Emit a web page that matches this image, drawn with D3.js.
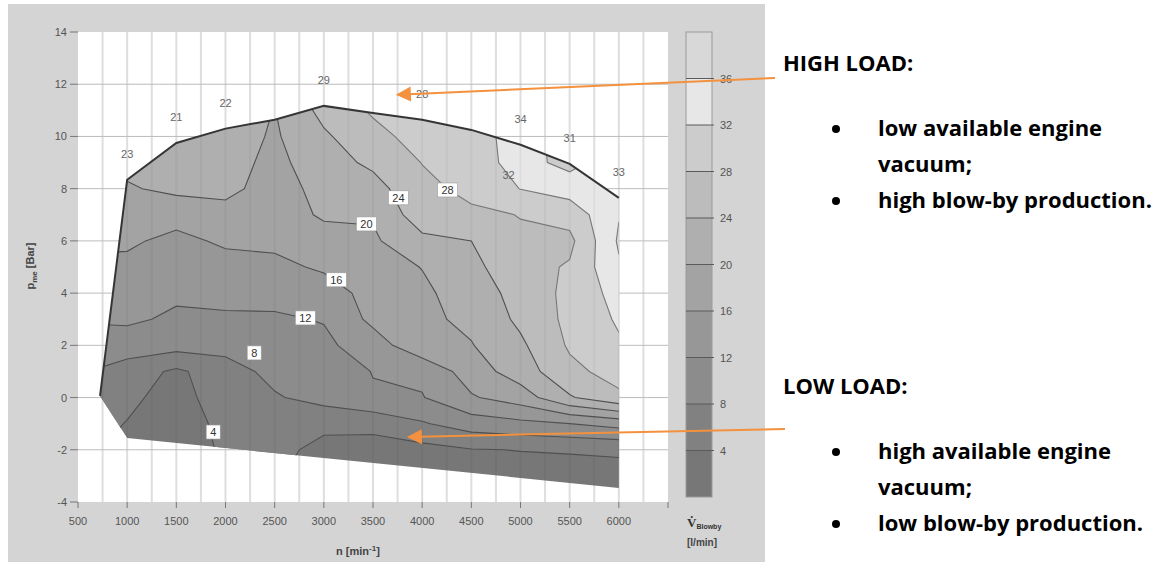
<!DOCTYPE html>
<html>
<head>
<meta charset="utf-8">
<script src="https://cdn.jsdelivr.net/npm/d3@7/dist/d3.min.js"></script>
<style>
  body { margin: 0; background: #fff; }
  svg { display: block; }
</style>
</head>
<body>
<div id="chart"></div>
<script>
// engine speed columns of the map [min^-1]
var rpmGrid = [500, 1000, 1500, 2000, 2500, 3000, 3500, 4000, 4500, 5000, 5500, 6000, 6500];
// mean effective pressure rows [bar], bottom to top
var pmeGrid = [-4, -3, -2, -1, 0, 1, 2, 3, 4, 5, 6, 7, 8, 9, 10, 11, 12];

// blow-by flow [l/min], one list per speed, values for pme -4 .. 12
var blowby500  = [5.0, 5.0, 5.0, 5.2, 6.5, 8.5, 10.5, 12.3, 13.8, 15.2, 16.8, 18.3, 19.8, 21.0, 22.0, 23.0, 23.0];
var blowby1000 = [2.5, 2.6, 3.0, 3.9, 4.6, 6.0, 10.2, 12.6, 13.9, 15.1, 16.6, 18.1, 19.6, 21.0, 22.0, 23.0, 23.0];
var blowby1500 = [2.0, 2.0, 2.2, 2.5, 2.9, 3.3, 9.5, 11.4, 12.6, 13.9, 15.0, 17.4, 20.9, 21.3, 21.2, 21.0, 21.0];
var blowby2000 = [4.2, 4.3, 4.5, 4.8, 5.5, 6.2, 9.4, 11.4, 13.2, 14.6, 16.6, 18.7, 21.0, 21.6, 22.0, 22.0, 22.0];
var blowby2500 = [4.4, 4.6, 5.0, 6.0, 7.6, 9.2, 10.5, 11.5, 13.2, 15.0, 16.9, 17.8, 18.4, 18.9, 19.5, 19.9, 20.5];
var blowby3000 = [1.0, 1.5, 3.0, 4.8, 9.5, 10.3, 11.2, 12.2, 14.0, 16.6, 18.2, 20.6, 21.2, 22.3, 23.4, 25.2, 26.0];
var blowby3500 = [0.8, 1.0, 2.6, 5.0, 11.7, 12.1, 14.0, 17.0, 17.5, 18.5, 19.4, 20.4, 22.5, 24.8, 26.8, 28.5, 29.0];
var blowby4000 = [1.2, 1.5, 2.7, 7.6, 11.8, 12.8, 19.0, 19.1, 19.3, 20.1, 23.0, 26.3, 27.0, 28.1, 29.5, 30.5, 31.0];
var blowby4500 = [1.5, 2.0, 3.8, 10.0, 15.6, 18.0, 19.8, 20.9, 21.8, 23.0, 24.0, 27.3, 29.0, 30.5, 31.0, 31.5, 32.0];
var blowby5000 = [1.8, 2.5, 4.1, 11.0, 18.0, 22.0, 23.3, 24.8, 25.5, 26.5, 27.5, 28.1, 32.1, 33.2, 33.0, 33.0, 33.0];
var blowby5500 = [1.8, 2.5, 4.3, 12.0, 23.6, 27.0, 28.5, 29.0, 29.0, 28.4, 27.0, 29.5, 33.8, 31.0, 31.0, 31.0, 31.0];
var blowby6000 = [1.5, 2.8, 4.5, 13.5, 27.2, 29.5, 31.5, 32.5, 33.5, 35.5, 36.5, 35.8, 34.0, 34.0, 34.0, 34.0, 34.0];
var blowby6500 = [1.5, 2.8, 4.5, 13.5, 27.2, 29.5, 31.5, 32.5, 33.5, 35.5, 36.5, 35.8, 34.0, 34.0, 34.0, 34.0, 34.0];
var blowbyCols = [blowby500, blowby1000, blowby1500, blowby2000, blowby2500, blowby3000, blowby3500,
                  blowby4000, blowby4500, blowby5000, blowby5500, blowby6000, blowby6500];

// iso levels and band shades
var levels = [0, 4, 8, 12, 16, 20, 24, 28, 32, 36];
var bandColors = ["#777777", "#818181", "#8c8c8c", "#979797", "#a3a3a3", "#afafaf", "#bcbcbc", "#cccccc", "#e7e7e7", "#d8d8d8"];

// operating range of the engine (full load curve and lower limit)
var envRpm = [724, 1000, 1500, 2000, 2500, 3000, 3500, 4000, 4500, 5000, 5500, 6000];
var envTop = [0.06, 8.34, 9.75, 10.3, 10.64, 11.17, 10.9, 10.64, 10.25, 9.68, 8.95, 7.65];
var envBottomRpm = [724, 1000, 6000];
var envBottom = [0.06, -1.55, -3.46];

// measured values written above the full load curve
var fullLoadRpm = [1000, 1500, 2000, 3000, 4000, 5000, 5500, 6000];
var fullLoadBlowby = [23, 21, 22, 29, 28, 34, 31, 33];

// inline contour labels
var labelRpm = [1875, 2292, 2812, 3127, 3433, 3759, 4258, 4879];
var labelPme = [-1.32, 1.71, 3.05, 4.51, 6.65, 7.65, 7.95, 8.53];
var labelVal = [4, 8, 12, 16, 20, 24, 28, 32];

var xTicks = [500, 1000, 1500, 2000, 2500, 3000, 3500, 4000, 4500, 5000, 5500, 6000];
var yTicks = [-4, -2, 0, 2, 4, 6, 8, 10, 12, 14];
var barTicks = [4, 8, 12, 16, 20, 24, 28, 32, 36];

var highItems = ["low available engine", "vacuum;", "high blow-by production."];
var lowItems = ["high available engine", "vacuum;", "low blow-by production."];

var width = 1167, height = 567;
var svg = d3.select("#chart").append("svg")
    .attr("width", width)
    .attr("height", height);

var x = d3.scaleLinear().domain([500, 6500]).range([78, 668]);
var y = d3.scaleLinear().domain([-4, 14]).range([502, 32]);

// grey frame and white plot area
svg.append("rect").attr("x", 8).attr("y", 4).attr("width", 757).attr("height", 558)
    .attr("fill", "#d4d4d4");
svg.append("rect").attr("x", 78).attr("y", 32).attr("width", 590).attr("height", 470)
    .attr("fill", "#fff");

// grid
var vGrid = d3.range(750, 6500, 250);
svg.append("g").selectAll("line").data(vGrid).join("line")
    .attr("x1", d => x(d)).attr("x2", d => x(d))
    .attr("y1", 32).attr("y2", 502)
    .attr("stroke", "#dedede").attr("stroke-width", 2);
svg.append("g").selectAll("line").data(d3.range(-2, 14, 2)).join("line")
    .attr("x1", 78).attr("x2", 668)
    .attr("y1", d => y(d)).attr("y2", d => y(d))
    .attr("stroke", "#bcbcbc");

// envelope used as clip
var envPts = envRpm.map((r, i) => [x(r), y(envTop[i])])
    .concat(envBottomRpm.slice().reverse().map((r, i) => [x(r), y(envBottom[envBottom.length - 1 - i])]));
svg.append("clipPath").attr("id", "env")
    .append("path").attr("d", "M" + envPts.join("L") + "Z");

// contour map
var nx = rpmGrid.length, ny = pmeGrid.length;
var values = [];
for (var j = 0; j < ny; j++) {
    for (var i = 0; i < nx; i++) values.push(blowbyCols[i][ny - 1 - j]);
}
var bands = d3.contours().size([nx, ny]).thresholds(levels)(values);
var step = rpmGrid[1] - rpmGrid[0];
var topPme = pmeGrid[ny - 1];
var gridPath = d3.geoPath(d3.geoTransform({
    point: function(gx, gy) {
        this.stream.point(x(rpmGrid[0] + (gx - 0.5) * step), y(topPme - (gy - 0.5)));
    }
}));

var map = svg.append("g").attr("clip-path", "url(#env)");
map.selectAll("path.band").data(bands).join("path")
    .attr("class", "band")
    .attr("d", gridPath)
    .attr("fill", (d, i) => bandColors[i]);
// faint vertical stripes showing through
map.selectAll("line").data(vGrid).join("line")
    .attr("x1", d => x(d)).attr("x2", d => x(d))
    .attr("y1", 32).attr("y2", 502)
    .attr("stroke", "#000").attr("stroke-opacity", 0.04).attr("stroke-width", 2);
map.selectAll("path.iso").data(bands.filter(d => d.value > 0)).join("path")
    .attr("class", "iso")
    .attr("d", gridPath)
    .attr("fill", "none")
    .attr("stroke", d => d.value >= 28 ? "#777" : "#505050")
    .attr("stroke-width", 1.1);

// full load curve
svg.append("path")
    .datum(envRpm.map((r, i) => [r, envTop[i]]))
    .attr("d", d3.line().x(d => x(d[0])).y(d => y(d[1])))
    .attr("fill", "none").attr("stroke", "#353535").attr("stroke-width", 2);

var topAt = d3.scaleLinear().domain(envRpm).range(envTop);
svg.append("g").selectAll("text").data(fullLoadRpm).join("text")
    .attr("x", d => x(d)).attr("y", d => y(topAt(d)) - 22)
    .attr("text-anchor", "middle")
    .style("font-family", "Liberation Sans, Arial, sans-serif").style("font-size", "11px")
    .attr("fill", "#666")
    .text((d, i) => fullLoadBlowby[i]);

// contour value boxes
var lab = svg.append("g").selectAll("g").data(labelVal).join("g")
    .attr("transform", (d, i) => "translate(" + x(labelRpm[i]) + "," + y(labelPme[i]) + ")");
lab.filter(d => d < 32).append("rect")
    .attr("x", d => d < 10 ? -7 : -10).attr("y", -7)
    .attr("width", d => d < 10 ? 14 : 20).attr("height", 14)
    .attr("fill", "#fff").attr("stroke", "#9a9a9a").attr("stroke-width", 0.6);
lab.append("text")
    .attr("y", 4).attr("text-anchor", "middle")
    .style("font-family", "Liberation Sans, Arial, sans-serif").style("font-size", "11px")
    .attr("fill", d => d < 32 ? "#333" : "#666")
    .text(d => d);

// axes
var axisFont = "Liberation Sans, Arial, sans-serif";
svg.append("g").selectAll("line").data(yTicks).join("line")
    .attr("x1", 70).attr("x2", 78).attr("y1", d => y(d)).attr("y2", d => y(d))
    .attr("stroke", "#777");
svg.append("g").selectAll("text").data(yTicks).join("text")
    .attr("x", 67).attr("y", d => y(d) + 4)
    .attr("text-anchor", "end")
    .style("font-family", axisFont).style("font-size", "11px")
    .attr("fill", "#555")
    .text(d => d);
svg.append("g").selectAll("line").data(xTicks.concat([6500])).join("line")
    .attr("x1", d => x(d)).attr("x2", d => x(d)).attr("y1", 502).attr("y2", 508)
    .attr("stroke", "#777");
svg.append("g").selectAll("text").data(xTicks).join("text")
    .attr("x", d => x(d)).attr("y", 525)
    .attr("text-anchor", "middle")
    .style("font-family", axisFont).style("font-size", "11px")
    .attr("fill", "#555")
    .text(d => d);

var xt = svg.append("text").attr("x", 358).attr("y", 555).attr("text-anchor", "middle")
    .style("font-family", axisFont).style("font-size", "11px").style("font-weight", "bold")
    .attr("fill", "#444");
xt.append("tspan").text("n [min");
xt.append("tspan").attr("dy", -4).style("font-size", "8px").text("-1");
xt.append("tspan").attr("dy", 4).text("]");

var yt = svg.append("text").attr("transform", "translate(34,266) rotate(-90)")
    .attr("text-anchor", "middle")
    .style("font-family", axisFont).style("font-size", "11px").style("font-weight", "bold")
    .attr("fill", "#444");
yt.append("tspan").text("p");
yt.append("tspan").attr("dy", 3).style("font-size", "8px").text("me");
yt.append("tspan").attr("dy", -3).text(" [Bar]");

// colour bar
var c = d3.scaleLinear().domain([0, 40]).range([497, 32]);
var bar = svg.append("g");
bar.selectAll("rect").data(levels).join("rect")
    .attr("x", 686).attr("width", 26)
    .attr("y", d => c(d + 4)).attr("height", d => c(d) - c(d + 4))
    .attr("fill", (d, i) => bandColors[i]);
bar.append("rect").attr("x", 686).attr("y", c(40)).attr("width", 26).attr("height", c(0) - c(40))
    .attr("fill", "none").attr("stroke", "#9a9a9a");
bar.selectAll("line").data(barTicks).join("line")
    .attr("x1", 686).attr("x2", 714).attr("y1", d => c(d)).attr("y2", d => c(d))
    .attr("stroke", "#5a5a5a");
bar.selectAll("text").data(barTicks).join("text")
    .attr("x", 720).attr("y", d => c(d) + 4)
    .style("font-family", axisFont).style("font-size", "11px")
    .attr("fill", "#555")
    .text(d => d);
var vt = svg.append("text").attr("x", 687).attr("y", 527)
    .style("font-family", "Liberation Serif, serif").style("font-weight", "bold").style("font-size", "13px")
    .attr("fill", "#333");
vt.append("tspan").text("V\u0307");
vt.append("tspan").attr("dy", 2).style("font-family", axisFont).style("font-size", "7px").text("Blowby");
svg.append("text").attr("x", 687).attr("y", 546)
    .style("font-family", axisFont).style("font-weight", "bold").style("font-size", "10px")
    .attr("fill", "#444")
    .text("[l/min]");

// annotation arrows
var orange = "#f4913f";
svg.append("defs").append("marker")
    .attr("id", "head").attr("viewBox", "0 0 10 10").attr("refX", 9).attr("refY", 5)
    .attr("markerWidth", 7.5).attr("markerHeight", 8).attr("orient", "auto")
    .attr("markerUnits", "strokeWidth")
    .append("path").attr("d", "M0,0L10,5L0,10Z").attr("fill", orange);
var arrows = [
    {from: [775, 78], rpm: 3748, pme: 11.6},
    {from: [785, 429], rpm: 3860, pme: -1.51}
];
svg.append("g").selectAll("line").data(arrows).join("line")
    .attr("x1", d => d.from[0]).attr("y1", d => d.from[1])
    .attr("x2", d => x(d.rpm)).attr("y2", d => y(d.pme))
    .attr("stroke", orange).attr("stroke-width", 2)
    .attr("marker-end", "url(#head)");

// right hand notes
var noteFont = "'Open Sans', Lato, sans-serif";
function note(title, items, top) {
    svg.append("text").attr("x", 783).attr("y", top)
        .style("font-family", noteFont).style("font-weight", "bold").style("font-size", "22px")
        .attr("fill", "#000").text(title);
    items.forEach(function(t, i) {
        var by = top + 65 + i * 36;
        if (i !== 1) {
            svg.append("circle").attr("cx", 836).attr("cy", by - 7).attr("r", 4).attr("fill", "#000");
        }
        svg.append("text").attr("x", 878).attr("y", by)
            .style("font-family", noteFont).style("font-weight", "bold").style("font-size", "22px")
            .attr("fill", "#000").text(t);
    });
}
note("HIGH LOAD:", highItems, 71);
note("LOW LOAD:", lowItems, 394);
</script>
</body>
</html>
